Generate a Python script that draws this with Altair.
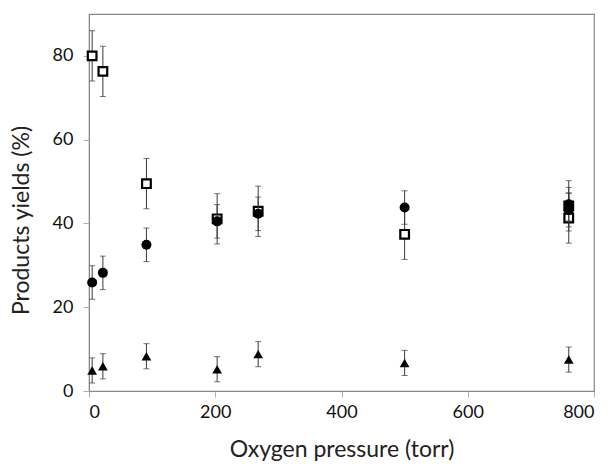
import altair as alt
import pandas as pd

pressure = [5, 22, 91, 203, 268, 500, 760]
squares = [80.0, 76.3, 49.5, 41.1, 42.9, 37.4, 41.3]
squares_err = [6, 6, 6, 6, 6, 6, 6]
squares_extra_x = [760]
squares_extra = [44.2]
circles = [25.9, 28.2, 34.9, 40.5, 42.3, 43.8, 44.6]
circles_err = [4, 4, 4, 4, 4, 4, 4]
circles_extra_x = [760]
circles_extra = [43.2]
triangles = [4.9, 5.9, 8.3, 5.2, 8.8, 6.7, 7.5]
triangles_err = [3, 3, 3, 3, 3, 3, 3]


def frame(xs, ys, errs):
    return pd.DataFrame({
        "x": xs, "y": ys,
        "lo": [y - e for y, e in zip(ys, errs)],
        "hi": [y + e for y, e in zip(ys, errs)],
    })


sq = pd.concat([frame(squares_extra_x, squares_extra, [6]),
                frame(pressure, squares, squares_err)], ignore_index=True)
ci = pd.concat([frame(pressure, circles, circles_err),
                frame(circles_extra_x, circles_extra, [4])], ignore_index=True)
tr = frame(pressure, triangles, triangles_err)

xs = alt.Scale(domain=[0, 800], nice=False)
ys = alt.Scale(domain=[0, 90], nice=False)
X = alt.X("x:Q", scale=xs, axis=alt.Axis(values=[0, 200, 400, 600, 800],
                                         title="Oxygen pressure (torr)"))
Y = alt.Y("y:Q", scale=ys, axis=alt.Axis(values=[0, 20, 40, 60, 80],
                                         title="Products yields (%)",
                                         titleY=206, titleX=-56))
ebc = "#3a3a3a"


def errbars(df):
    base = alt.Chart(df)
    rule = base.mark_rule(color=ebc, strokeWidth=1).encode(
        x=X, y=alt.Y("lo:Q", scale=ys), y2="hi:Q")
    cap_lo = base.mark_tick(color=ebc, orient="horizontal", size=6, thickness=1).encode(
        x=X, y=alt.Y("lo:Q", scale=ys))
    cap_hi = base.mark_tick(color=ebc, orient="horizontal", size=6, thickness=1).encode(
        x=X, y=alt.Y("hi:Q", scale=ys))
    return [rule, cap_lo, cap_hi]


layers = []
layers += errbars(sq)
layers.append(alt.Chart(sq).mark_point(shape="square", filled=True, fill="white",
                                       stroke="black", strokeWidth=2.2, size=75, opacity=1)
              .encode(x=X, y=Y))
layers += errbars(ci)
layers.append(alt.Chart(ci).mark_point(shape="circle", filled=True, color="black",
                                       size=100, opacity=1).encode(x=X, y=Y))
layers += errbars(tr)
layers.append(alt.Chart(tr).mark_point(shape="triangle-up", filled=True, color="black",
                                       size=95, opacity=1).encode(x=X, y=Y))

font = "Lato"
chart = alt.layer(*layers).properties(
    width=505, height=377,
    autosize=alt.AutoSizeParams(type="none"),
    padding={"left": 89, "top": 14, "right": 18, "bottom": 73},
).configure_view(stroke="#878787", strokeWidth=1.2).configure_axis(
    grid=False,
    domainColor="#878787",
    tickColor="#b0b0b0",
    tickSize=6,
    labelFont=font,
    titleFont=font,
    labelFontSize=18,
    titleFontSize=23,
    labelColor="#111111",
    titleColor="#222222",
    titleFontWeight="normal",
).configure_axisX(
    labelPadding=6, titlePadding=17,
).configure_axisY(
    labelPadding=10,
)

chart.save("out.html", embed_options={"renderer": "svg", "actions": False})
